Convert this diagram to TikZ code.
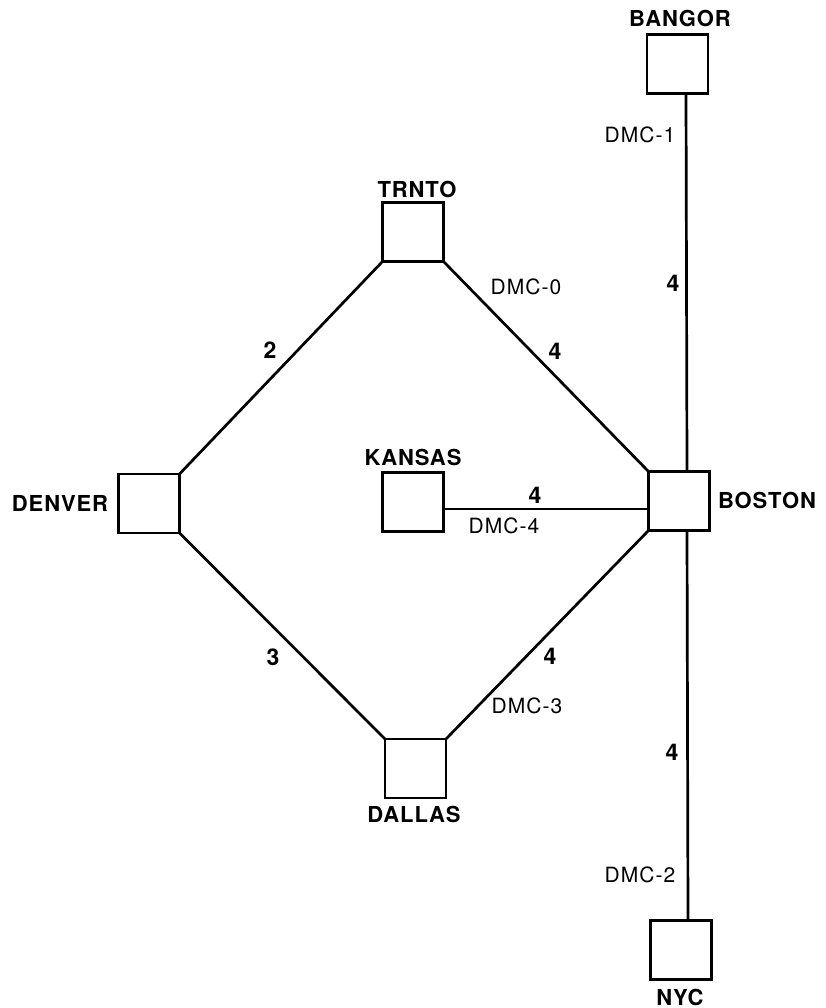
\documentclass[tikz,border=0pt]{standalone}
\usepackage{fontspec}
\newfontfamily\heros[LetterSpace=4]{TeX Gyre Heros}
\newfontfamily\herosdmc[LetterSpace=5]{TeX Gyre Heros}
\begin{document}
\begin{tikzpicture}[x=1pt,y=-1pt,
  station/.style={draw,line width=2.7pt,rectangle,minimum width=61pt,minimum height=59pt,inner sep=0pt,outer sep=0pt},
  city/.style={font=\heros\bfseries\fontsize{22}{26}\selectfont,inner sep=0pt},
  weight/.style={font=\heros\bfseries\fontsize{23}{26}\selectfont,inner sep=0pt},
  dmc/.style={font=\herosdmc\fontsize{21}{24}\selectfont,inner sep=0pt},
  link/.style={line width=2.7pt}]
\useasboundingbox (0,0) rectangle (826,1008);
% stations
\node[station] (bangor) at (677.5,64) {};
\node[station] (trnto)  at (413,232) {};
\node[station] (denver) at (149,503.5) {};
\node[station] (kansas) at (413,502) {};
\node[station] (boston) at (679,501) {};
\node[station] (dallas) at (415.5,768.5) {};
\node[station] (nyc)    at (681,950) {};
% station names
\node[city] (lbangor) at (680,18) {BANGOR};
\node[city] (ltrnto)  at (417,189) {TRNTO};
\node[city] (lkansas) at (413,457) {KANSAS};
\node[city] (ldenver) at (60,503) {DENVER};
\node[city] (lboston) at (767,500) {BOSTON};
\node[city] (ldallas) at (414,814) {DALLAS};
\node[city] (lnyc)    at (680,997) {NYC};
% links
\draw[link] ([xshift=8.5pt]bangor.south) -- ([xshift=8pt]boston.north);
\draw[link] ([xshift=8pt]boston.south) -- ([xshift=7pt]nyc.north);
\draw[link] (trnto.south west) -- (denver.north east);
\draw[link] (trnto.south east) -- (boston.north west);
\draw[link] (denver.south east) -- (dallas.north west);
\draw[link] (dallas.north east) -- (boston.south west);
\draw[link] ([yshift=-7pt]kansas.east) -- ([yshift=-7pt]kansas.east -| boston.west);
% weights
\node[weight] (w1) at (673,283) {4};
\node[weight] (w2) at (672,752) {4};
\node[weight] (w3) at (270,350) {2};
\node[weight] (w4) at (555,351) {4};
\node[weight] (w5) at (273,657) {3};
\node[weight] (w6) at (550,656) {4};
\node[weight] (w7) at (535,495) {4};
% channel labels
\node[dmc] (d1) at (640,135) {DMC-1};
\node[dmc] (d0) at (526,287) {DMC-0};
\node[dmc] (d4) at (504,526) {DMC-4};
\node[dmc] (d3) at (527,706) {DMC-3};
\node[dmc] (d2) at (640,875) {DMC-2};
\end{tikzpicture}
\end{document}
